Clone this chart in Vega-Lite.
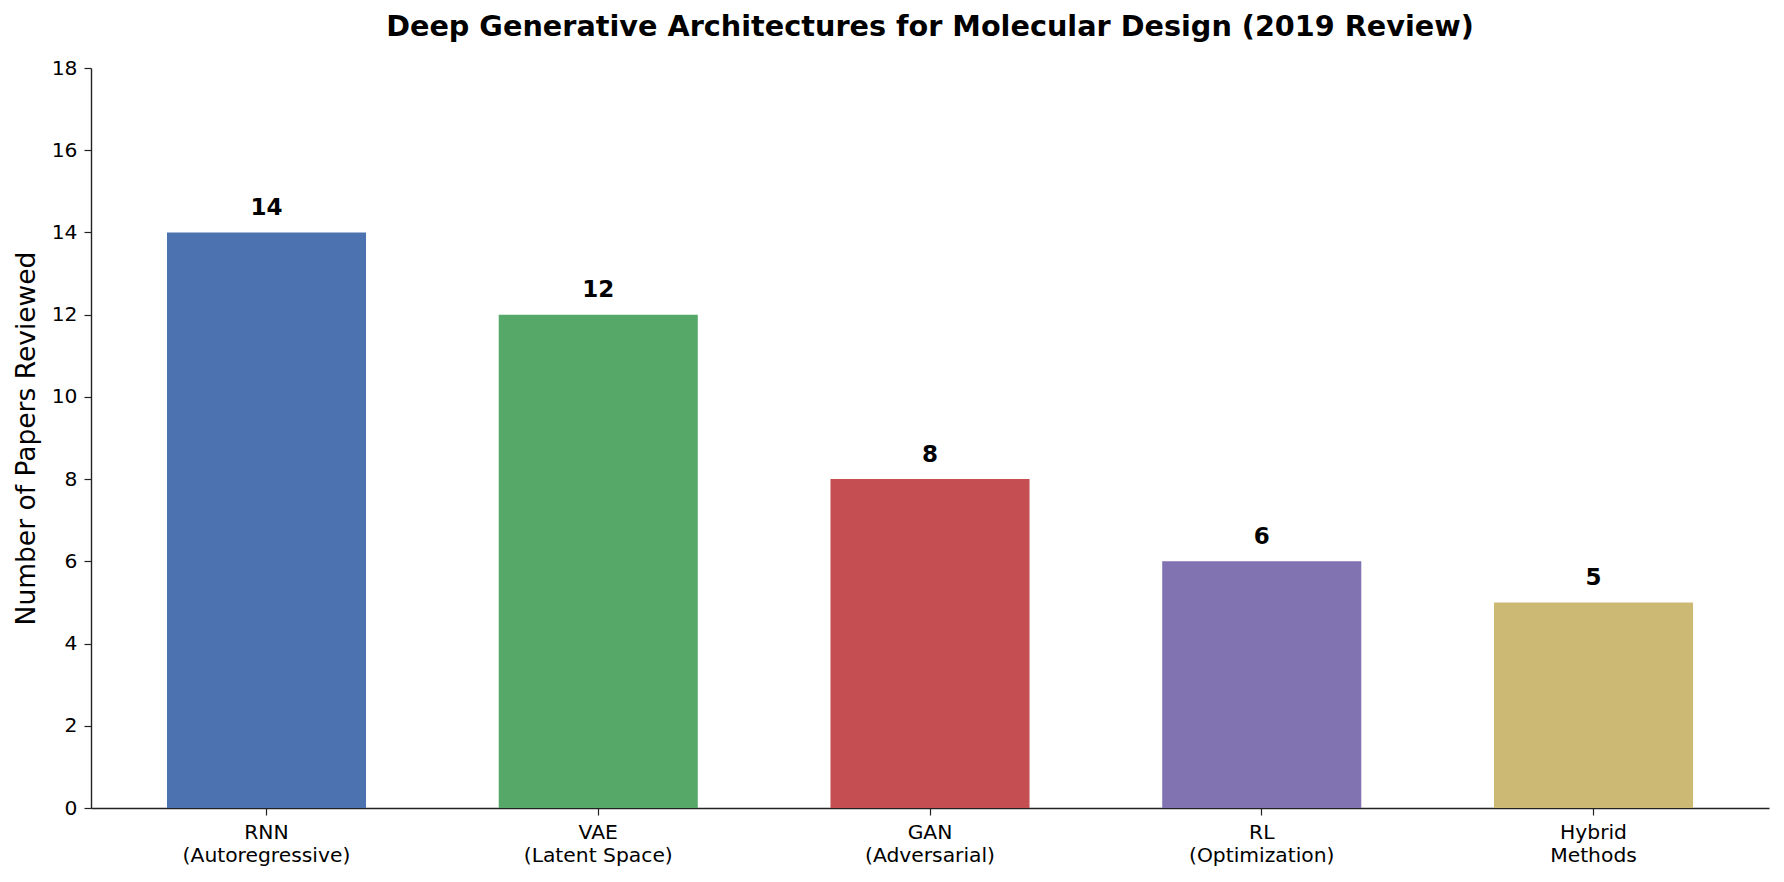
{
  "$schema": "https://vega.github.io/schema/vega-lite/v6.json",
  "autosize": "none",
  "width": 1678,
  "height": 740,
  "padding": {"left": 91, "top": 68, "right": 15, "bottom": 74},
  "background": "white",
  "title": {
    "text": "Deep Generative Architectures for Molecular Design (2019 Review)",
    "fontSize": 28.7,
    "font": "DejaVu Sans",
    "fontWeight": "bold",
    "anchor": "middle",
    "offset": 16,
    "color": "black"
  },
  "data": {
    "values": [
      {"architecture": "RNN\n(Autoregressive)", "papers": 14},
      {"architecture": "VAE\n(Latent Space)", "papers": 12},
      {"architecture": "GAN\n(Adversarial)", "papers": 8},
      {"architecture": "RL\n(Optimization)", "papers": 6},
      {"architecture": "Hybrid\nMethods", "papers": 5}
    ]
  },
  "encoding": {
    "x": {
      "field": "architecture",
      "type": "nominal",
      "sort": null,
      "scale": {"paddingInner": 0.4, "paddingOuter": 0.229},
      "axis": {
        "title": null,
        "labelAngle": 0,
        "labelExpr": "split(datum.label, '\\n')",
        "labelFont": "DejaVu Sans",
        "labelFontSize": 20.3,
        "labelLineHeight": 23.5,
        "labelColor": "black",
        "labelPadding": 7,
        "tickSize": 7,
        "tickWidth": 1.2,
        "tickColor": "#222222",
        "domainColor": "#222222",
        "domainWidth": 1.4
      }
    },
    "y": {
      "field": "papers",
      "type": "quantitative",
      "scale": {"domain": [0, 18], "nice": false},
      "axis": {
        "title": "Number of Papers Reviewed",
        "titleFont": "DejaVu Sans",
        "titleFontSize": 26.5,
        "titleFontWeight": "normal",
        "titleColor": "black",
        "titlePadding": 11,
        "values": [0, 2, 4, 6, 8, 10, 12, 14, 16, 18],
        "grid": false,
        "labelFont": "DejaVu Sans",
        "labelFontSize": 20.3,
        "labelColor": "black",
        "labelPadding": 7,
        "tickSize": 7,
        "tickWidth": 1.2,
        "tickColor": "#222222",
        "domainColor": "#222222",
        "domainWidth": 1.4
      }
    }
  },
  "layer": [
    {
      "mark": {"type": "bar"},
      "encoding": {
        "color": {
          "field": "architecture",
          "type": "nominal",
          "sort": null,
          "scale": {"range": ["#4C72B0", "#55A868", "#C44E52", "#8172B2", "#CCB974"]},
          "legend": null
        }
      }
    },
    {
      "mark": {
        "type": "text",
        "baseline": "alphabetic",
        "dy": -17.5,
        "fontSize": 23,
        "fontWeight": "bold",
        "font": "DejaVu Sans",
        "color": "black"
      },
      "encoding": {"text": {"field": "papers", "type": "quantitative"}}
    }
  ],
  "config": {"view": {"stroke": null}}
}
